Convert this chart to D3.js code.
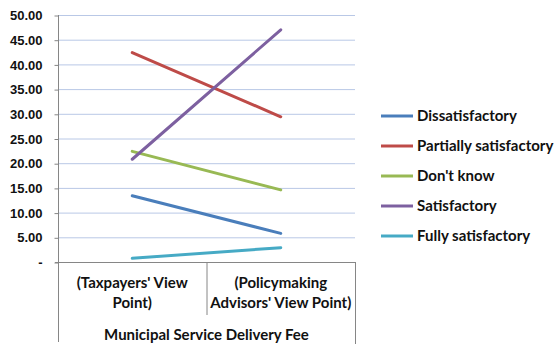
<!DOCTYPE html>
<html>
<head>
<meta charset="utf-8">
<script src="https://cdn.jsdelivr.net/npm/d3@7"></script>
<style>
  html, body { margin: 0; padding: 0; background: #fff; }
  svg { display: block; font-family: Lato, "Open Sans", sans-serif; font-weight: bold; }
</style>
</head>
<body>
<svg id="chart" width="554" height="344"></svg>
<script>
// Categories (two-level axis: group title + two view points)
const categories = ["(Taxpayers' View Point)", "(Policymaking Advisors' View Point)"];
const categoryLines = [["(Taxpayers' View", "Point)"], ["(Policymaking", "Advisors' View Point)"]];
const groupTitle = "Municipal Service Delivery Fee";

// Series values
const seriesNames = ["Dissatisfactory", "Partially satisfactory", "Don't know", "Satisfactory", "Fully satisfactory"];
const dissatisfactory = [13.4, 5.8];
const partiallySatisfactory = [42.4, 29.4];
const dontKnow = [22.4, 14.6];
const satisfactory = [20.8, 47.0];
const fullySatisfactory = [0.75, 2.9];
const seriesColors = ["#4a7ebb", "#be4b48", "#98b954", "#7d60a0", "#46aac5"];

// Y tick values and labels
const yTicks = [0, 5, 10, 15, 20, 25, 30, 35, 40, 45, 50];
const yTickLabels = ["-", "5.00", "10.00", "15.00", "20.00", "25.00", "30.00", "35.00", "40.00", "45.00", "50.00"];

const seriesValues = [dissatisfactory, partiallySatisfactory, dontKnow, satisfactory, fullySatisfactory];

const svg = d3.select("#chart");
const plotLeft = 58, plotRight = 355, plotTop = 15, plotBottom = 262;

const x = d3.scaleBand().domain(categories).range([plotLeft, plotRight]);
const y = d3.scaleLinear().domain([0, 50]).range([plotBottom, plotTop]);

// Gridlines
svg.append("g")
  .selectAll("line")
  .data(yTicks.filter(d => d > 0))
  .join("line")
  .attr("x1", plotLeft).attr("x2", plotRight)
  .attr("y1", d => y(d) + 0.5).attr("y2", d => y(d) + 0.5)
  .attr("stroke", "#b9c8e6").attr("stroke-width", 1);

// Y axis
const yAxis = d3.axisLeft(y)
  .tickValues(yTicks)
  .tickFormat((d, i) => yTickLabels[i])
  .tickSize(4)
  .tickPadding(12);
const gy = svg.append("g")
  .attr("transform", `translate(${plotLeft + 0.5},0.5)`)
  .call(yAxis);
gy.select(".domain").remove();
gy.selectAll(".tick line").attr("stroke", "#868686");
gy.selectAll(".tick text")
  .attr("fill", "#111")
  .style("font-size", "13px")
  .style("font-weight", "bold");

// Axis frame lines (vertical axis extends through the category labels)
const axisColor = "#868686";
svg.append("line")
  .attr("x1", plotLeft + 0.5).attr("x2", plotLeft + 0.5)
  .attr("y1", plotTop).attr("y2", 342)
  .attr("stroke", axisColor);
svg.append("line")
  .attr("x1", plotRight + 0.5).attr("x2", plotRight + 0.5)
  .attr("y1", plotBottom).attr("y2", 344)
  .attr("stroke", axisColor);
svg.append("line")
  .attr("x1", plotLeft - 3).attr("x2", plotRight + 0.5)
  .attr("y1", plotBottom + 0.5).attr("y2", plotBottom + 0.5)
  .attr("stroke", axisColor);
// separator between the two categories
svg.append("line")
  .attr("x1", x(categories[1]) + 0.5).attr("x2", x(categories[1]) + 0.5)
  .attr("y1", plotBottom).attr("y2", 315)
  .attr("stroke", axisColor);

// Category labels
const catG = svg.append("g");
categories.forEach((c, i) => {
  const cx = x(c) + x.bandwidth() / 2;
  const t = catG.append("text")
    .attr("x", cx).attr("y", 288)
    .attr("text-anchor", "middle")
    .attr("fill", "#111")
    .style("font-size", "15px");
  categoryLines[i].forEach((ln, j) => {
    t.append("tspan").attr("x", cx).attr("dy", j === 0 ? 0 : 20).text(ln);
  });
});

// Group title
svg.append("text")
  .attr("x", (plotLeft + plotRight) / 2).attr("y", 340)
  .attr("text-anchor", "middle")
  .attr("fill", "#111")
  .style("font-size", "15px")
  .text(groupTitle);

// Series lines
const line = d3.line()
  .x((d, i) => x(categories[i]) + x.bandwidth() / 2)
  .y(d => y(d));

svg.append("g")
  .selectAll("path")
  .data(seriesValues)
  .join("path")
  .attr("d", d => line(d))
  .attr("fill", "none")
  .attr("stroke", (d, i) => seriesColors[i])
  .attr("stroke-width", 3)
  .attr("stroke-linecap", "round");

// Legend
const legend = svg.append("g");
seriesNames.forEach((name, i) => {
  const ly = 116 + i * 30;
  legend.append("line")
    .attr("x1", 381).attr("x2", 413)
    .attr("y1", ly).attr("y2", ly)
    .attr("stroke", seriesColors[i])
    .attr("stroke-width", 3);
  legend.append("text")
    .attr("x", 417).attr("y", ly + 5)
    .attr("fill", "#111")
    .style("font-size", "15px")
    .text(name);
});
</script>
</body>
</html>
